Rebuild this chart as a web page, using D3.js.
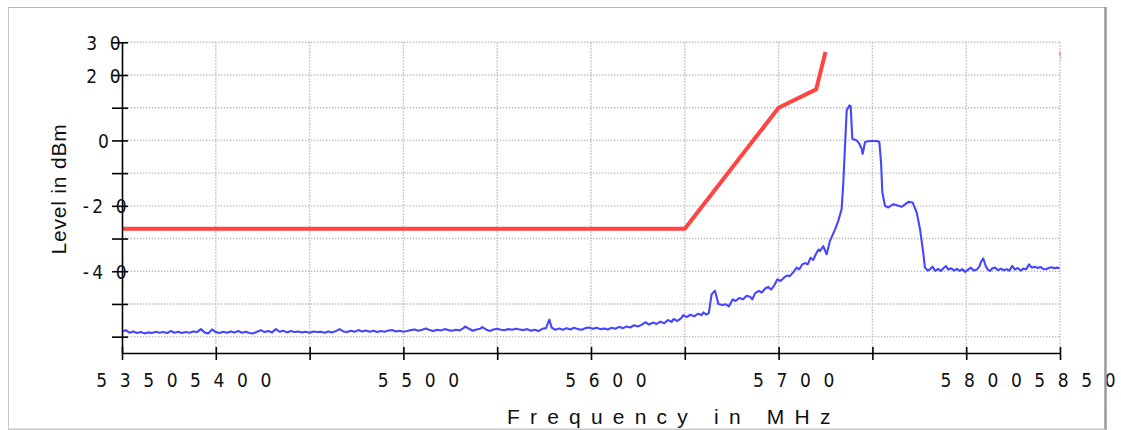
<!DOCTYPE html>
<html><head><meta charset="utf-8">
<script src="https://cdn.jsdelivr.net/npm/d3@7"></script>
<style>body{margin:0;background:#fff;overflow:hidden}</style>
</head><body><svg id="c" width="1121" height="430"></svg>
<script>
// ---- data ----
// measured spectrum: [frequency MHz, level dBm]
const trace = [
[5350,-58.5],[5352,-58.0],[5354,-58.8],[5356,-58.4],[5358,-58.9],[5360,-58.6],[5362,-59.0],[5364,-58.7],[5366,-58.9],[5368,-58.5],
[5370,-58.8],[5372,-58.6],[5374,-58.9],[5376,-58.3],[5378,-58.8],[5380,-58.5],[5382,-58.9],[5384,-58.6],[5386,-58.8],[5388,-58.4],
[5390,-58.6],[5392,-57.7],[5394,-58.7],[5396,-59.0],[5398,-57.8],[5400,-58.6],[5402,-58.9],[5404,-58.5],[5406,-58.8],[5408,-58.4],
[5410,-58.7],[5412,-58.3],[5414,-58.8],[5416,-58.5],[5418,-58.9],[5420,-59.0],[5422,-58.5],[5424,-58.0],[5426,-58.6],[5428,-58.3],
[5430,-58.7],[5432,-57.7],[5434,-58.5],[5436,-58.2],[5438,-58.7],[5440,-58.3],[5442,-58.6],[5444,-58.4],[5446,-58.7],[5448,-58.5],
[5450,-58.8],[5452,-58.4],[5454,-58.6],[5456,-58.5],[5458,-58.8],[5460,-58.4],[5462,-58.7],[5464,-58.3],[5466,-57.7],[5468,-58.4],
[5470,-58.6],[5472,-58.2],[5474,-58.5],[5476,-58.0],[5478,-58.4],[5480,-58.1],[5482,-58.5],[5484,-58.2],[5486,-58.6],[5488,-58.3],
[5490,-58.5],[5492,-58.1],[5494,-58.0],[5496,-58.4],[5498,-58.2],[5500,-58.5],[5502,-58.3],[5504,-58.0],[5506,-57.8],[5508,-58.2],
[5510,-57.9],[5512,-57.5],[5514,-58.0],[5516,-58.3],[5518,-57.9],[5520,-58.1],[5522,-57.7],[5524,-58.0],[5526,-58.2],[5528,-57.9],
[5530,-58.1],[5532,-57.4],[5533,-56.9],[5535,-57.6],[5537,-58.2],[5539,-57.8],[5541,-57.6],[5542,-57.1],[5544,-57.8],[5546,-58.3],
[5548,-57.8],[5550,-57.6],[5552,-57.9],[5554,-58.0],[5556,-57.7],[5558,-57.9],[5560,-57.6],[5562,-57.8],[5564,-58.0],[5566,-57.7],
[5568,-58.2],[5570,-57.9],[5572,-58.3],[5574,-57.6],[5576,-57.4],[5577.8,-54.8],[5579,-57.2],[5581,-57.9],[5583,-57.5],[5585,-57.9],
[5587,-57.4],[5589,-57.8],[5591,-57.3],[5593,-57.7],[5595,-57.9],[5597,-57.4],[5599,-57.2],[5601,-57.6],[5603,-57.3],[5605,-57.7],
[5607,-57.5],[5609,-57.8],[5611,-57.3],[5613,-57.6],[5615,-57.0],[5617,-57.4],[5619,-56.9],[5621,-57.2],[5623,-56.5],[5625,-56.9],
[5627,-56.4],[5629,-55.6],[5631,-56.3],[5633,-55.7],[5635,-56.1],[5637,-55.4],[5639,-55.9],[5641,-54.9],[5643,-55.5],[5644,-54.6],
[5646,-55.2],[5648,-54.4],[5649.2,-53.4],[5651,-54.0],[5653,-53.3],[5655,-53.8],[5657,-53.0],[5659,-53.4],[5660,-52.6],[5661.5,-53.3],
[5662.8,-52.8],[5664.3,-47.0],[5666.1,-46.0],[5667.9,-50.0],[5670,-50.3],[5672,-50.1],[5673.5,-50.8],[5675.5,-48.6],[5677,-49.1],[5679,-48.2],
[5681,-48.6],[5683,-47.5],[5685,-47.9],[5686,-48.6],[5687.5,-46.7],[5689.5,-46.0],[5691,-46.5],[5693,-45.2],[5694.5,-44.8],[5696,-45.6],
[5697.5,-44.5],[5699.3,-42.5],[5701,-43.0],[5703,-41.9],[5704.5,-41.3],[5706,-41.5],[5708,-40.2],[5709.6,-38.9],[5711,-39.4],[5712.5,-38.0],
[5714,-37.5],[5715.5,-37.9],[5717,-35.9],[5718.5,-36.5],[5720,-34.6],[5721.3,-33.4],[5722.1,-33.8],[5723.8,-32.3],[5725.6,-34.8],[5727.4,-30.7],
[5730.1,-27.2],[5731.8,-24.6],[5733.6,-21.0],[5734.5,-12.8],[5735.4,-1.6],[5736.3,9.2],[5737.7,10.7],[5738.4,10.5],[5739.3,0.5],[5741.6,0.0],
[5743,-1.0],[5744.3,-2.6],[5744.8,-4.1],[5746.1,-0.5],[5748.7,-0.2],[5752.3,-0.2],[5753.7,-0.5],[5754.6,-6.7],[5755.3,-15.9],[5756.7,-20.0],
[5758.5,-20.5],[5761.2,-19.5],[5763,-19.8],[5765.6,-20.3],[5769.2,-18.8],[5771.5,-19.0],[5773.6,-22.0],[5775.4,-27.2],[5777.1,-34.3],[5778,-38.9],
[5779.5,-39.8],[5780.7,-39.4],[5782,-38.6],[5783.5,-39.9],[5785,-39.3],[5786.5,-39.9],[5788,-39.0],[5789.2,-38.4],[5790.5,-39.5],[5792,-39.1],
[5793.5,-39.8],[5795,-39.3],[5796.5,-39.9],[5798,-39.4],[5799.5,-40.2],[5801,-39.5],[5802.5,-38.9],[5804,-39.8],[5805.6,-39.5],[5807,-38.6],
[5808,-37.0],[5809.1,-36.1],[5810.4,-38.4],[5811.5,-39.5],[5812.7,-39.9],[5814,-39.1],[5815.4,-38.9],[5817,-39.7],[5818.5,-39.2],[5820,-39.7],
[5821.6,-39.4],[5823,-39.8],[5824.5,-38.4],[5826,-39.5],[5827.5,-39.0],[5829,-39.8],[5830.5,-39.2],[5832,-39.4],[5833.5,-37.9],[5835,-38.9],
[5836.5,-38.6],[5838,-39.0],[5839.5,-38.7],[5841,-39.3],[5842.5,-39.4],[5844,-39.0],[5845.5,-38.8],[5847,-39.1],[5848.5,-38.9],[5849.8,-39.1]
];
const maskFreqs = [5350, 5650, 5700, 5720, 5725];
const maskLevels = [-27, -27, 10, 15.6, 27];
const mask2Freqs = [5850, 5855];
const mask2Levels = [27, 15.6];
const xTicks = [5350,5400,5450,5500,5550,5600,5650,5700,5750,5800,5850];
const xLabelled = [5350,5400,5500,5600,5700,5800,5850];
const yTicks = [30,20,10,0,-10,-20,-30,-40,-50,-60];
const yLabelled = [30,20,0,-20,-40];
const xTitle = "Frequency in MHz";
const yTitle = "Level in dBm";

// ---- drawing ----
const svg = d3.select("#c");
const x = d3.scaleLinear().domain([5350,5850]).range([122,1060]);
const y = d3.scaleLinear().domain([-65,30]).range([353,42.3]);
const FONT = "'Liberation Sans Narrow','DejaVu Sans Condensed','Liberation Sans',Arial,sans-serif";

// frame
svg.append("rect").attr("x",8.5).attr("y",7.5).attr("width",1097).attr("height",421.5)
  .attr("fill","#fff").attr("stroke","#c8c8c8").attr("stroke-width",1);
svg.append("line").attr("x1",8).attr("x2",1106).attr("y1",7.5).attr("y2",7.5).attr("stroke","#b4b4b4");

// grid
const grid = svg.append("g").attr("stroke","#bdbdbd").attr("stroke-width",1.4).attr("stroke-dasharray","1.4,1.6");
grid.selectAll("line.h").data(yTicks).join("line").attr("class","h")
  .attr("x1",x(5350)).attr("x2",x(5850)).attr("y1",d=>y(d)).attr("y2",d=>y(d));
grid.selectAll("line.v").data(xTicks.slice(1)).join("line").attr("class","v")
  .attr("x1",d=>x(d)).attr("x2",d=>x(d)).attr("y1",y(30)).attr("y2",y(-65));

// clip for the mask beyond the upper band edge
svg.append("clipPath").attr("id","clip").append("rect").attr("x",0).attr("y",0).attr("width",1060.5).attr("height",430);

// series
const line = d3.line().x(d=>x(d[0])).y(d=>y(d[1]));
svg.append("path").datum(trace)
  .attr("d",line).attr("fill","none").attr("stroke","#4646ff").attr("stroke-width",2.1).attr("stroke-linejoin","round");
svg.append("path").datum(maskFreqs.map((f,i)=>[f,maskLevels[i]]))
  .attr("d",line).attr("fill","none").attr("stroke","#ff4444").attr("stroke-width",4).attr("stroke-linejoin","round");
svg.append("path").datum(mask2Freqs.map((f,i)=>[f,mask2Levels[i]])).attr("clip-path","url(#clip)")
  .attr("d",line).attr("fill","none").attr("stroke","#ff6666").attr("stroke-width",2);

// axes
const ax = svg.append("g").attr("transform",`translate(0,${y(-65)})`)
  .call(d3.axisBottom(x).tickValues(xTicks).tickSizeOuter(0).tickFormat(""));
ax.selectAll(".tick line").attr("y1",-6).attr("y2",7);
const ay = svg.append("g").attr("transform",`translate(${x(5350)},0)`)
  .call(d3.axisLeft(y).tickValues(yTicks).tickSizeOuter(0).tickFormat(""));
ay.selectAll(".tick line").attr("x1",6).attr("x2",-10);
svg.selectAll(".domain, .tick line").attr("stroke","#000").attr("stroke-width",1.6);

// spaced labels: each character placed explicitly
function spacedLabel(g, str, cx, baseline){
  const offs=[0];
  for(let i=1;i<str.length;i++) offs.push(offs[i-1] + (str[i-1]==="-"?12:23.5));
  const start = cx - offs[offs.length-1]/2;
  const t = g.append("text").attr("y",baseline).attr("font-family",FONT).attr("font-size",19)
    .attr("fill","#111").attr("text-anchor","middle");
  str.split("").forEach((ch,i)=>t.append("tspan").attr("x",start+offs[i]).text(ch));
}
const lab = svg.append("g");
xLabelled.forEach(v=>spacedLabel(lab, String(v), x(v)+15, 387));
yLabelled.forEach(v=>spacedLabel(lab, String(v), 103.5, y(v)+7.5));

// titles
svg.append("text").attr("x",507).attr("y",424).attr("font-family","'Liberation Sans',Arial,sans-serif")
  .attr("font-size",21).attr("letter-spacing",10.2).attr("fill","#111").text(xTitle);
svg.append("text").attr("transform","translate(66,189) rotate(-90)").attr("text-anchor","middle")
  .attr("font-family","'Liberation Sans',Arial,sans-serif").attr("font-size",21).attr("letter-spacing",0.8)
  .attr("fill","#111").text(yTitle);

// right / bottom border (drawn last, over labels)
svg.append("line").attr("x1",1105.5).attr("x2",1105.5).attr("y1",7).attr("y2",430).attr("stroke","#9a9a9a").attr("stroke-width",2.5);
svg.append("line").attr("x1",8).attr("x2",1106).attr("y1",429.5).attr("y2",429.5).attr("stroke","#c8c8c8");
</script></body></html>
